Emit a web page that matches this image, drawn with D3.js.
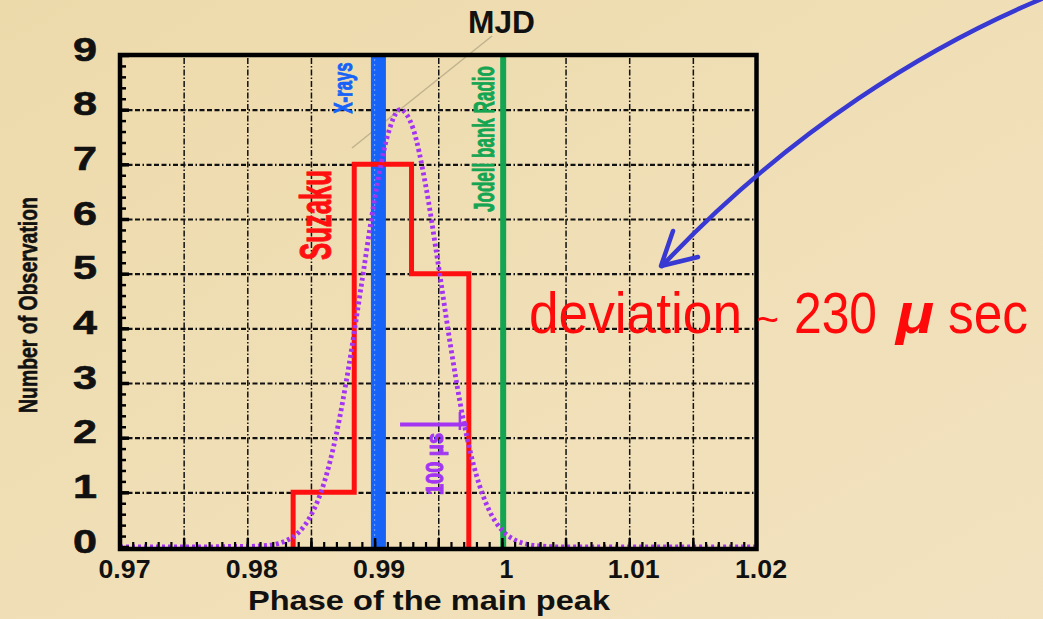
<!DOCTYPE html>
<html>
<head>
<meta charset="utf-8">
<script src="https://cdn.jsdelivr.net/npm/d3@7"></script>
<style>
  html, body { margin: 0; padding: 0; background: #efdeb4; }
  svg { display: block; }
</style>
</head>
<body>
<svg id="chart" width="1043" height="619"></svg>
<script>
// ---------------- data ----------------
const xTickValues = [0.97, 0.98, 0.99, 1.00, 1.01, 1.02];
const xTickLabels = ["0.97", "0.98", "0.99", "1", "1.01", "1.02"];
const yTickValues = [0, 1, 2, 3, 4, 5, 6, 7, 8, 9];
const yTickLabels = ["0", "1", "2", "3", "4", "5", "6", "7", "8", "9"];
const xGridValues = [0.975, 0.98, 0.985, 0.99, 0.995, 1.00, 1.005, 1.01, 1.015];
const yGridValues = [1, 2, 3, 4, 5, 6, 7, 8];

// Suzaku histogram (bin edges in phase, counts per bin)
const suzakuEdges = [0.9836, 0.9884, 0.9929, 0.9974];
const suzakuCounts = [1, 7, 5];

// Gaussian-like fit
const fitPhase = [0.970, 0.976, 0.979, 0.980, 0.981, 0.982, 0.983, 0.984, 0.985, 0.986,
                  0.987, 0.988, 0.989, 0.990, 0.991, 0.992, 0.993, 0.994, 0.995, 0.996,
                  0.997, 0.998, 0.999, 1.000, 1.001, 1.002, 1.003, 1.005, 1.020];
const fitCount = [0, 0, 0.01, 0.01, 0.02, 0.04, 0.11, 0.26, 0.58, 1.15,
                  2.07, 3.34, 4.85, 6.36, 7.51, 8.00, 7.67, 6.63, 5.17, 3.63,
                  2.29, 1.31, 0.67, 0.31, 0.13, 0.05, 0.02, 0, 0];

// reference phases
const xrayPhase = 0.9903;
const radioPhase = 1.0001;

// 100 micro-second scale bar
const barPhase = [0.9920, 0.9973];
const barLevel = 2.24;
const barTickPhase = 0.9967;
const barTickLevel = [2.14, 2.47];

// annotation text pieces
const devWords = ["deviation", "~", "230", "\u03bc", "sec"];

// ---------------- drawing ----------------
const svg = d3.select("#chart");
const W = 1043, H = 619;
const X0 = 120, X1 = 756.5, Y0 = 547, Y1 = 55;
const x = d3.scaleLinear().domain([0.97, 1.02]).range([X0, X1]);
const y = d3.scaleLinear().domain([0, 9]).range([Y0, Y1]);
const FONT = "'Liberation Sans', Arial, Helvetica, sans-serif";

// background (parchment)
const defs = svg.append("defs");
const bg = defs.append("linearGradient").attr("id", "bg")
  .attr("x1", "0").attr("y1", "0").attr("x2", "1").attr("y2", "1");
bg.append("stop").attr("offset", "0").attr("stop-color", "#eddaab");
bg.append("stop").attr("offset", "0.5").attr("stop-color", "#f0dfb6");
bg.append("stop").attr("offset", "1").attr("stop-color", "#f2e2bf");
svg.append("rect").attr("width", W).attr("height", H).attr("fill", "url(#bg)");

// faint fibre line in the paper
svg.append("line").attr("x1", 492).attr("y1", 36).attr("x2", 352).attr("y2", 148)
  .attr("stroke", "rgba(110,100,80,0.35)").attr("stroke-width", 1.6);

// grid via axes
const gx = svg.append("g").attr("transform", `translate(0,${Y0})`)
  .call(d3.axisBottom(x).tickValues(xGridValues).tickSize(-(Y0 - Y1)).tickFormat(""));
gx.select(".domain").remove();
gx.selectAll("line").attr("stroke", "#111").attr("stroke-width", 1.5)
  .attr("stroke-dasharray", "6,2,1.5,2");

const gy = svg.append("g").attr("transform", `translate(${X0},0)`)
  .call(d3.axisLeft(y).tickValues(yGridValues).tickSize(-(X1 - X0)).tickFormat(""));
gy.select(".domain").remove();
gy.selectAll("line").attr("stroke", "#111").attr("stroke-width", 2.2)
  .attr("stroke-dasharray", "5,2.5,5,2.5,5,2.5,1.5,2.5");

// X-rays band
svg.append("line")
  .attr("x1", x(xrayPhase)).attr("x2", x(xrayPhase))
  .attr("y1", y(9) + 1).attr("y2", y(0))
  .attr("stroke", "#1762f7").attr("stroke-width", 15);
svg.append("line")
  .attr("x1", x(0.99)).attr("x2", x(0.99))
  .attr("y1", y(9) + 4).attr("y2", y(0))
  .attr("stroke", "rgba(170,200,255,0.55)").attr("stroke-width", 1.2)
  .attr("stroke-dasharray", "2,3");

// Radio line
svg.append("line")
  .attr("x1", x(radioPhase)).attr("x2", x(radioPhase))
  .attr("y1", y(9)).attr("y2", y(0))
  .attr("stroke", "#14a552").attr("stroke-width", 6);

// Suzaku histogram outline
const histPts = [[suzakuEdges[0], 0]];
suzakuCounts.forEach((c, i) => {
  histPts.push([suzakuEdges[i], c]);
  histPts.push([suzakuEdges[i + 1], c]);
});
histPts.push([suzakuEdges[suzakuEdges.length - 1], 0]);
svg.append("path")
  .datum(histPts)
  .attr("d", d3.line().x(d => x(d[0])).y(d => y(d[1])))
  .attr("fill", "none").attr("stroke", "#ff1010").attr("stroke-width", 5)
  .attr("stroke-linejoin", "miter");

// dotted fit curve
svg.append("path")
  .datum(fitPhase.map((p, i) => [p, fitCount[i]]))
  .attr("d", d3.line().x(d => x(d[0])).y(d => y(d[1])).curve(d3.curveMonotoneX))
  .attr("fill", "none").attr("stroke", "#a234f2").attr("stroke-width", 4.8)
  .attr("stroke-dasharray", "3,3");

// 100 micro-second bar
svg.append("line")
  .attr("x1", x(barPhase[0])).attr("x2", x(barPhase[1]))
  .attr("y1", y(barLevel)).attr("y2", y(barLevel))
  .attr("stroke", "#a234f2").attr("stroke-width", 4);
svg.append("line")
  .attr("x1", x(barTickPhase)).attr("x2", x(barTickPhase))
  .attr("y1", y(barTickLevel[0])).attr("y2", y(barTickLevel[1]))
  .attr("stroke", "#a234f2").attr("stroke-width", 2.5);

// rotated in-plot labels
function vlabel(txt, bx, cy, size, len, color, sw) {
  svg.append("text")
    .attr("transform", `translate(${bx},${cy}) rotate(-90)`)
    .attr("text-anchor", "middle")
    .attr("font-family", FONT).attr("font-weight", "bold")
    .attr("font-size", size)
    .attr("textLength", len).attr("lengthAdjust", "spacingAndGlyphs")
    .attr("fill", color).attr("stroke", color).attr("stroke-width", sw)
    .text(txt);
}
vlabel("X-rays", 352, 88, 25, 51, "#1762f7", 0.9);
vlabel("Suzaku", 331, 215, 45, 90, "#ff1010", 1.0);
vlabel("Jodell bank Radio", 494, 139, 30, 146, "#14a552", 0.9);
vlabel("100 \u03bcs", 443, 464, 23, 62, "#a234f2", 0.9);
vlabel("Number of Observation", 37, 305, 26, 216, "#111", 0.6);

// frame
svg.append("rect")
  .attr("x", X0).attr("y", Y1).attr("width", X1 - X0).attr("height", Y0 - Y1 + 2)
  .attr("fill", "none").attr("stroke", "#000").attr("stroke-width", 4.5);

// left axis ticks (inside)
const minorY = d3.range(0, 9.001, 0.2);
const ly1 = svg.append("g").attr("transform", `translate(${X0},0)`)
  .call(d3.axisRight(y).tickValues(minorY).tickSize(6).tickFormat(""));
ly1.select(".domain").remove();
ly1.selectAll("line").attr("stroke", "#000").attr("stroke-width", 2.5);
const ly2 = svg.append("g").attr("transform", `translate(${X0},0)`)
  .call(d3.axisRight(y).tickValues(yTickValues).tickSize(9).tickFormat(""));
ly2.select(".domain").remove();
ly2.selectAll("line").attr("stroke", "#000").attr("stroke-width", 3.5);

// bottom axis ticks (inside)
const minorX = d3.range(0.97, 1.0201, 0.001);
const bx1 = svg.append("g").attr("transform", `translate(0,${Y0})`)
  .call(d3.axisTop(x).tickValues(minorX).tickSize(5).tickFormat(""));
bx1.select(".domain").remove();
bx1.selectAll("line").attr("stroke", "#000").attr("stroke-width", 2.2);
const bx2 = svg.append("g").attr("transform", `translate(0,${Y0})`)
  .call(d3.axisTop(x).tickValues(xGridValues).tickSize(9).tickFormat(""));
bx2.select(".domain").remove();
bx2.selectAll("line").attr("stroke", "#000").attr("stroke-width", 2.5);

// y tick labels
const yl = svg.append("g").attr("transform", `translate(85,0)`)
  .call(d3.axisLeft(y).tickValues(yTickValues).tickSize(0).tickPadding(0)
    .tickFormat((d, i) => yTickLabels[i]));
yl.select(".domain").remove();
yl.selectAll("text")
  .attr("x", 0).attr("dy", null).attr("y", 5)
  .attr("text-anchor", "middle")
  .attr("font-family", FONT).attr("font-weight", "bold").attr("font-size", 33)
  .attr("textLength", 24).attr("lengthAdjust", "spacingAndGlyphs")
  .attr("fill", "#111").attr("stroke", "#111").attr("stroke-width", 0.6);

// x tick labels
const xl = svg.append("g").attr("transform", `translate(0,578)`)
  .call(d3.axisBottom(x).tickValues(xTickValues).tickSize(0).tickPadding(0)
    .tickFormat((d, i) => xTickLabels[i]));
xl.select(".domain").remove();
xl.selectAll("text")
  .attr("y", 0).attr("dy", null).attr("x", 4)
  .attr("text-anchor", "middle")
  .attr("font-family", FONT).attr("font-weight", "bold").attr("font-size", 25)
  .attr("fill", "#111")
  .each(function(d, i) {
    const t = xTickLabels[i];
    if (t.length > 1) d3.select(this).attr("textLength", 52).attr("lengthAdjust", "spacingAndGlyphs");
  });

// axis titles
svg.append("text").attr("x", 248).attr("y", 610)
  .attr("font-family", FONT).attr("font-weight", "bold").attr("font-size", 28)
  .attr("textLength", 362).attr("lengthAdjust", "spacingAndGlyphs")
  .attr("fill", "#111").text("Phase of the main peak");
svg.append("text").attr("x", 468).attr("y", 33)
  .attr("font-family", FONT).attr("font-weight", "bold").attr("font-size", 32)
  .attr("textLength", 67).attr("lengthAdjust", "spacingAndGlyphs")
  .attr("fill", "#111").text("MJD");

// annotation arrow
svg.append("path")
  .attr("d", "M1044,-2 C930,45 790,130 662,266")
  .attr("fill", "none").attr("stroke", "#3838d2").attr("stroke-width", 4.5)
  .attr("stroke-linecap", "round");
svg.append("path")
  .attr("d", "M673,231 L661,266 L698,257")
  .attr("fill", "none").attr("stroke", "#3838d2").attr("stroke-width", 4.5)
  .attr("stroke-linecap", "round").attr("stroke-linejoin", "round");

// deviation annotation
const devG = svg.append("g").attr("fill", "#ff0a0a").attr("font-family", FONT);
const devSpec = [
  { x: 529, len: 213, size: 57, weight: "normal", style: "normal" },
  { x: 756, len: 23, size: 40, weight: "normal", style: "normal" },
  { x: 794, len: 83, size: 57, weight: "normal", style: "normal" },
  { x: 896, len: 38, size: 57, weight: "bold", style: "italic" },
  { x: 948, len: 80, size: 57, weight: "normal", style: "normal" }
];
devWords.forEach((w, i) => {
  const s = devSpec[i];
  devG.append("text").attr("x", s.x).attr("y", 333)
    .attr("font-size", s.size).attr("font-weight", s.weight).attr("font-style", s.style)
    .attr("textLength", s.len).attr("lengthAdjust", "spacingAndGlyphs")
    .text(w);
});
</script>
</body>
</html>
